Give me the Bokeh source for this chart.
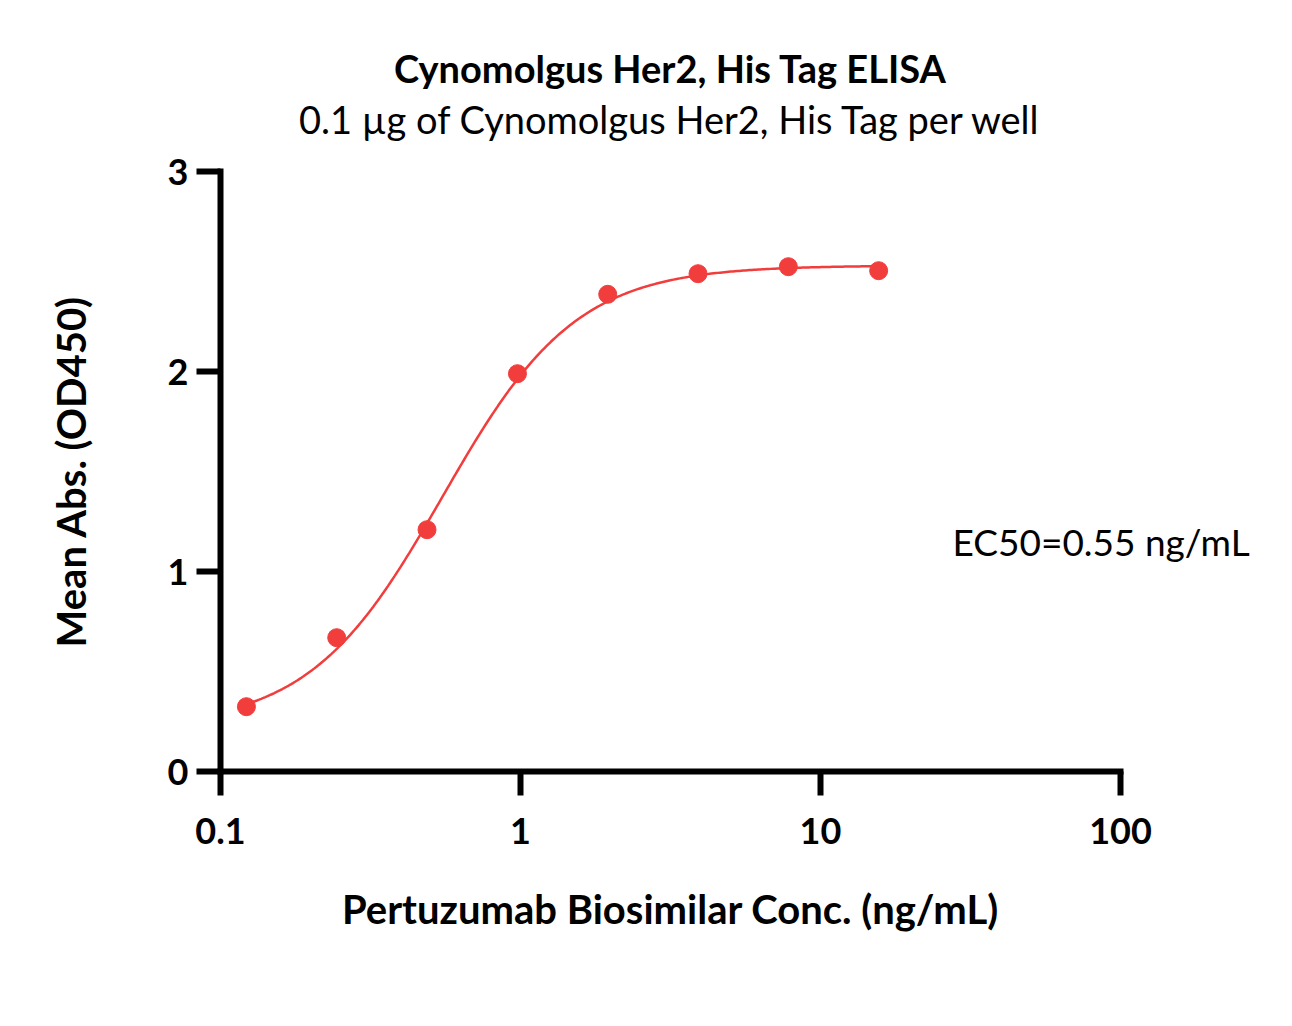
import numpy as np
from bokeh.plotting import figure
from bokeh.models import FixedTicker, LinearAxis, CustomJSTickFormatter
from bokeh.embed import file_html
from bokeh.resources import INLINE

# ---- data ----
conc = [0.122, 0.244, 0.488, 0.977, 1.953, 3.906, 7.813, 15.625]   # ng/mL
od450 = [0.324, 0.669, 1.209, 1.989, 2.386, 2.489, 2.524, 2.504]
x_ticks = [0.1, 1, 10, 100]
x_tick_labels = ["0.1", "1", "10", "100"]
y_ticks = [0, 1, 2, 3]

# 4PL fit parameters of the drawn curve
fit_bottom = 0.22
fit_top = 2.53
fit_ec50 = 0.55
fit_hill = 1.95

title_text = "Cynomolgus Her2, His Tag ELISA"
subtitle_text = "0.1 µg of Cynomolgus Her2, His Tag per well"
ec50_text = "EC50=0.55 ng/mL"
ec50_label_y = 1.15          # vertical position of the EC50 note, in OD units
x_title = "Pertuzumab Biosimilar Conc. (ng/mL)"
y_title = "Mean Abs. (OD450)"

RED = "#F23D3D"
FONT = "Lato"

W, H = 1292, 1026
L, R, T, B = 220, 172, 171, 255

p = figure(width=W, height=H, x_axis_type="log", x_range=(0.1, 100), y_range=(0, 3),
           output_backend="svg", toolbar_location=None,
           min_border_left=L, min_border_right=R, min_border_top=T, min_border_bottom=B)
p.outline_line_color = None
p.grid.visible = False
p.background_fill_color = "white"
p.border_fill_color = "white"

# fitted curve
xs = np.logspace(np.log10(min(conc)), np.log10(max(conc)), 300)
ys = fit_bottom + (fit_top - fit_bottom) / (1 + (fit_ec50 / xs) ** fit_hill)
p.line(xs, ys, line_color=RED, line_width=2.5)
p.scatter(conc, od450, size=18, fill_color=RED, line_color=RED)

for ax in (p.xaxis[0], p.yaxis[0]):
    ax.axis_line_width = 6
    ax.axis_line_color = "black"
    ax.axis_line_cap = "square"
    ax.major_tick_line_width = 6
    ax.major_tick_line_color = "black"
    ax.major_tick_in = 0
    ax.major_tick_out = 24
    ax.minor_tick_line_color = None
    ax.major_label_text_font = FONT
    ax.major_label_text_font_style = "bold"
    ax.major_label_text_font_size = "36px"
    ax.major_label_text_color = "black"
    ax.axis_label_text_font = FONT
    ax.axis_label_text_font_style = "bold"
    ax.axis_label_text_font_size = "40px"
    ax.axis_label_text_color = "black"

p.xaxis.ticker = FixedTicker(ticks=x_ticks)
p.xaxis.formatter = CustomJSTickFormatter(
    args=dict(tvals=x_ticks, tlabels=x_tick_labels),
    code="""
    for (let i = 0; i < tvals.length; i++) {
        if (Math.abs(Math.log10(tick) - Math.log10(tvals[i])) < 1e-6) return tlabels[i];
    }
    return "";
    """)
p.xaxis.major_label_standoff = 22
p.xaxis.axis_label = x_title
p.xaxis.axis_label_standoff = 38

p.yaxis.ticker = FixedTicker(ticks=y_ticks)
p.yaxis.major_label_standoff = 8
p.yaxis.axis_label = y_title
p.yaxis.axis_label_standoff = 70


def text_axis(label, size, style, standoff):
    ax = LinearAxis(ticker=FixedTicker(ticks=[]), axis_label=label,
                    axis_line_color=None, major_tick_line_color=None,
                    minor_tick_line_color=None, major_tick_out=0, minor_tick_out=0,
                    major_tick_in=0, minor_tick_in=0, major_label_standoff=0,
                    axis_label_standoff=standoff, axis_label_text_font=FONT,
                    axis_label_text_font_size=size, axis_label_text_font_style=style,
                    axis_label_text_color="black")
    return ax

# subtitle (nearest the frame), then title above it
p.add_layout(text_axis(subtitle_text, "38px", "normal", 30), "above")
p.add_layout(text_axis(title_text, "38px", "bold", 2), "above")

# EC50 note, drawn as a right-side axis label pulled back over the plot area
ec_axis = LinearAxis(ticker=FixedTicker(ticks=[ec50_label_y]),
                     formatter=CustomJSTickFormatter(args=dict(txt=ec50_text),
                                                     code="return txt;"),
                     axis_line_color=None, major_tick_line_color=None,
                     minor_tick_line_color=None, major_tick_out=0, major_tick_in=0,
                     minor_tick_out=0, minor_tick_in=0,
                     major_label_standoff=-168,
                     major_label_text_font=FONT, major_label_text_font_size="37px",
                     major_label_text_font_style="normal", major_label_text_color="black")
p.add_layout(ec_axis, "right")

open("out.html", "w").write(file_html(p, INLINE))
